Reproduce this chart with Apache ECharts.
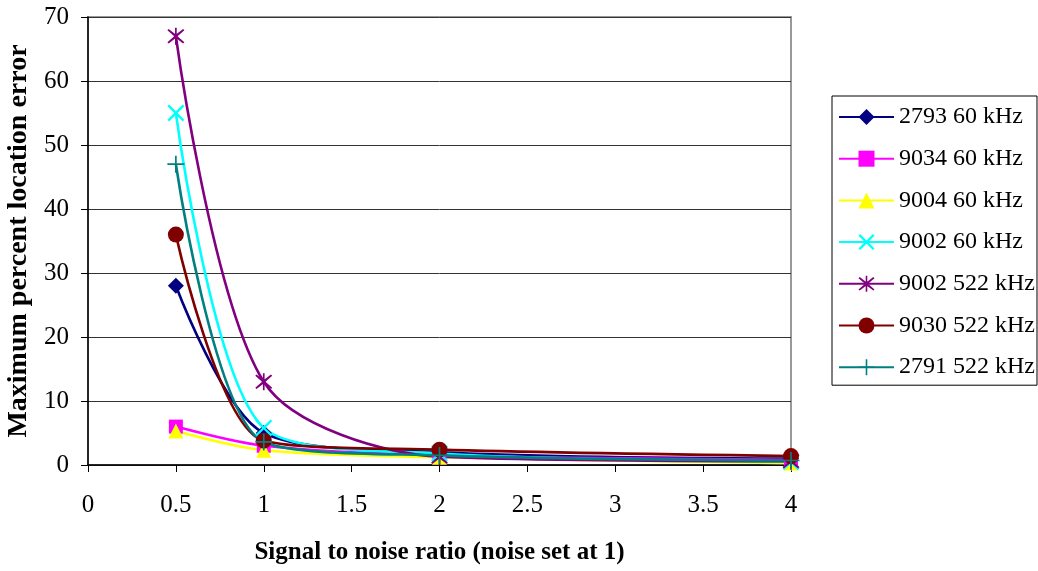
<!DOCTYPE html>
<html>
<head>
<meta charset="utf-8">
<script src="https://cdn.jsdelivr.net/npm/echarts@6/dist/echarts.min.js"></script>
<style>html,body{margin:0;padding:0;background:#fff;}#c{width:1038px;height:571px;}</style>
</head>
<body>
<div id="c"></div>
<script>
var xValues = [0.5, 1, 2, 4];
var xTicks = [0, 0.5, 1, 1.5, 2, 2.5, 3, 3.5, 4];
var s2793_60 = [28, 5, 2, 1];
var s9034_60 = [6, 3, 1.5, 0.8];
var s9004_60 = [5.3, 2.3, 1.2, 0.3];
var s9002_60 = [55, 5.8, 1.8, 0.5];
var s9002_522 = [67, 13, 1.3, 0.6];
var s9030_522 = [36, 3.8, 2.4, 1.4];
var s2791_522 = [47, 3.6, 1.5, 0.7];
var seriesNames = ['2793 60 kHz', '9034 60 kHz', '9004 60 kHz', '9002 60 kHz', '9002 522 kHz', '9030 522 kHz', '2791 522 kHz'];
var seriesData = [s2793_60, s9034_60, s9004_60, s9002_60, s9002_522, s9030_522, s2791_522];

var colors = ['#000080', '#FF00FF', '#FFFF00', '#00FFFF', '#800080', '#800000', '#008080'];
var xPath = 'path://M0,2 L2,0 L10,8 L18,0 L20,2 L12,10 L20,18 L18,20 L10,12 L2,20 L0,18 L8,10 Z';
var starPath = 'path://M0,3 L1.5,1.5 L10,8 L18.5,1.5 L20,3 L12,10 L20,17 L18.5,18.5 L10,12 L1.5,18.5 L0,17 L8,10 Z M9,0 L11,0 L11,20 L9,20 Z';
var plusPath = 'path://M9,0 L11,0 L11,9 L20,9 L20,11 L11,11 L11,20 L9,20 L9,11 L0,11 L0,9 L9,9 Z';
var symbols = ['diamond', 'rect', 'triangle', xPath, starPath, 'circle', plusPath];
var sizes = [16, 14, 15, 17, 17, 16, 17];

var FONT = 'Liberation Serif';
var series = seriesNames.map(function (name, i) {
  return {
    name: name,
    type: 'line',
    smooth: 0.3,
    data: xValues.map(function (x, j) { return [x, seriesData[i][j]]; }),
    symbol: symbols[i],
    symbolSize: sizes[i],
    showAllSymbol: true,
    lineStyle: { color: colors[i], width: 2.6 },
    itemStyle: { color: colors[i], borderColor: colors[i], borderWidth: 0 },
    emphasis: { disabled: true }
  };
});

var chart = echarts.init(document.getElementById('c'), null, { renderer: 'canvas' });
chart.setOption({
  animation: false,
  backgroundColor: '#fff',
  textStyle: { fontFamily: FONT, color: '#000' },
  grid: { left: 88, right: 247, top: 17, bottom: 106, show: true, borderColor: '#999', borderWidth: 2, backgroundColor: 'transparent', outerBoundsMode: 'none', containLabel: false },
  legend: {
    orient: 'vertical',
    left: 832,
    top: 96,
    padding: [9, 2, 6, 6],
    itemGap: 17.7,
    itemWidth: 55,
    itemHeight: 20,
    borderColor: '#000',
    borderWidth: 1,
    backgroundColor: '#fff',
    textStyle: { fontFamily: FONT, fontSize: 24, color: '#000', padding: [0, 0, 0, 0] },
    data: seriesNames
  },
  xAxis: {
    type: 'value',
    min: 0, max: 4, interval: 0.5,
    name: 'Signal to noise ratio (noise set at 1)',
    nameLocation: 'middle',
    nameGap: 75,
    nameTextStyle: { fontFamily: FONT, fontSize: 25, fontWeight: 'bold', color: '#000' },
    axisLine: { show: true, lineStyle: { color: '#000', width: 1.5 } },
    axisTick: { show: true, length: 7, lineStyle: { color: '#000' } },
    axisLabel: { fontFamily: FONT, fontSize: 25, color: '#000', margin: 28,
      formatter: function (v) { return xTicks.indexOf(v) >= 0 ? String(v) : ''; } },
    splitLine: { show: false }
  },
  yAxis: {
    type: 'value',
    min: 0, max: 70, interval: 10,
    name: 'Maximum percent location error',
    nameLocation: 'middle',
    nameGap: 54,
    nameTextStyle: { fontFamily: FONT, fontSize: 28, fontWeight: 'bold', color: '#000' },
    axisLine: { show: true, lineStyle: { color: '#000', width: 1.5 } },
    axisTick: { show: true, length: 7, lineStyle: { color: '#000' } },
    axisLabel: { fontFamily: FONT, fontSize: 25, color: '#000', margin: 19 },
    splitLine: { show: true, lineStyle: { color: '#333', width: 1 } }
  },
  series: series
});
</script>
</body>
</html>
